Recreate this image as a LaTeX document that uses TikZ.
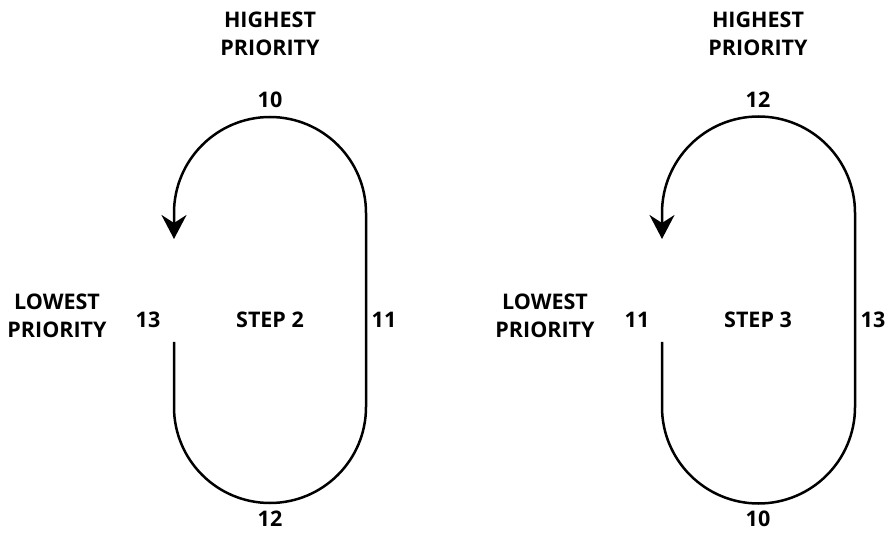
\documentclass[tikz,border=0pt]{standalone}
\usepackage{fontspec}
\setmainfont{Open Sans}
\usetikzlibrary{arrows.meta}
\tikzset{
  lbl/.style={font=\fontsize{21.5}{28}\selectfont\bfseries, align=center, inner sep=0pt},
  loopline/.style={line width=2.5pt, -{Stealth[length=24pt, width=25pt, inset=8pt]}},
}
\begin{document}
\begin{tikzpicture}[x=1pt,y=1pt]
\useasboundingbox (0,0) rectangle (888,533);
% step 2
\draw[loopline] (174,191) -- (174,126) arc[start angle=180, end angle=360, radius=96]
  -- (366,320) arc[start angle=0, end angle=180, radius=96] -- (174,294);
\node[lbl] (hiA) at (270,499) {HIGHEST\\PRIORITY};
\node[lbl] (topA) at (270,433) {10};
\node[lbl] (loA) at (57,217) {LOWEST\\PRIORITY};
\node[lbl] (leftA) at (148,213) {13};
\node[lbl] (stepA) at (270,213) {STEP 2};
\node[lbl] (rightA) at (384,213) {11};
\node[lbl] (botA) at (270,14) {12};
% step 3
\draw[loopline] (662,191) -- (662,126) arc[start angle=180, end angle=360, radius=96.5]
  -- (855,320) arc[start angle=0, end angle=180, radius=96.5] -- (662,294);
\node[lbl] (hiB) at (758,499) {HIGHEST\\PRIORITY};
\node[lbl] (topB) at (758,433) {12};
\node[lbl] (loB) at (545,217) {LOWEST\\PRIORITY};
\node[lbl] (leftB) at (637,213) {11};
\node[lbl] (stepB) at (758,213) {STEP 3};
\node[lbl] (rightB) at (873,213) {13};
\node[lbl] (botB) at (758,14) {10};
\end{tikzpicture}
\end{document}
